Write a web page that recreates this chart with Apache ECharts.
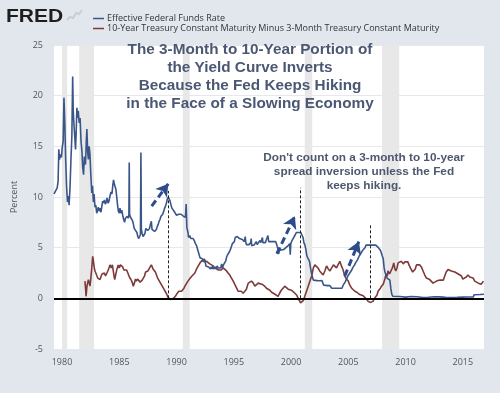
<!DOCTYPE html>
<html>
<head>
<meta charset="utf-8">
<script src="https://cdn.jsdelivr.net/npm/echarts@6/dist/echarts.min.js"></script>
<style>
html,body{margin:0;padding:0;background:#e2e7ee;}
#chart{width:500px;height:393px;}
</style>
</head>
<body>
<div id="chart"></div>
<script>
// ---- data (decimal year, percent) ----
var fedFunds = [
[1979.30,10.3],[1979.45,10.2],[1979.58,10.9],[1979.66,11.6],[1979.72,14.7],[1979.78,13.7],[1979.85,14.2],[1979.95,13.9],
[1980.02,14.9],[1980.10,15.5],[1980.17,19.8],[1980.24,17.5],[1980.32,13.7],[1980.40,11.0],[1980.48,9.5],[1980.55,10.1],
[1980.62,9.2],[1980.70,11.0],[1980.78,13.7],[1980.86,16.0],[1980.93,21.9],[1980.98,18.5],[1981.05,17.0],[1981.12,15.8],
[1981.18,14.7],[1981.24,16.5],[1981.30,18.8],[1981.36,17.8],[1981.42,18.5],[1981.50,17.3],[1981.58,17.8],[1981.66,15.5],
[1981.74,14.5],[1981.80,13.0],[1981.88,12.2],[1981.95,14.0],[1982.05,13.2],[1982.12,15.5],[1982.17,16.7],[1982.24,14.5],
[1982.30,13.7],[1982.37,15.0],[1982.44,14.2],[1982.52,12.1],[1982.60,10.4],[1982.66,11.1],[1982.74,9.5],[1982.80,10.3],
[1982.88,9.0],[1982.95,9.2],[1983.03,8.4],[1983.10,8.7],[1983.17,9.0],[1983.25,8.6],[1983.32,8.9],[1983.40,8.5],
[1983.48,9.1],[1983.55,9.6],[1983.62,9.4],[1983.70,9.7],[1983.78,9.3],[1983.86,9.5],[1983.93,9.9],[1984.02,9.4],
[1984.10,9.6],[1984.19,10.1],[1984.28,10.5],[1984.36,10.3],[1984.44,11.2],[1984.50,11.7],[1984.56,11.3],[1984.62,11.4],
[1984.70,10.8],[1984.77,10.1],[1984.85,9.2],[1984.92,8.6],[1985.00,8.4],[1985.06,8.9],[1985.14,8.4],[1985.22,8.7],
[1985.30,8.2],[1985.38,7.8],[1985.46,7.5],[1985.54,7.9],[1985.62,7.8],[1985.70,8.1],[1985.78,7.9],[1985.84,8.2],
[1985.87,13.4],[1985.90,8.3],[1985.98,8.0],[1986.06,7.9],[1986.14,7.7],[1986.22,7.4],[1986.30,6.9],[1986.38,6.8],
[1986.46,6.9],[1986.54,6.5],[1986.62,6.1],[1986.70,5.9],[1986.78,5.9],[1986.85,6.3],[1986.89,14.4],[1986.93,6.8],
[1987.00,6.4],[1987.08,6.1],[1987.16,6.2],[1987.24,6.4],[1987.32,6.9],[1987.40,6.8],[1987.48,6.7],[1987.56,6.6],
[1987.64,6.9],[1987.72,7.3],[1987.80,7.6],[1987.86,6.8],[1987.93,6.8],[1988.00,6.9],[1988.08,6.6],[1988.16,6.6],
[1988.24,6.8],[1988.32,7.1],[1988.40,7.3],[1988.48,7.6],[1988.56,7.8],[1988.64,8.1],[1988.72,8.2],[1988.80,8.3],
[1988.88,8.4],[1988.96,8.9],[1989.04,9.1],[1989.12,9.4],[1989.20,9.8],[1989.28,10.0],[1989.36,9.8],[1989.44,9.6],
[1989.52,9.2],[1989.60,8.9],[1989.68,9.0],[1989.76,8.8],[1989.84,8.5],[1989.92,8.5],[1990.00,8.2],[1990.10,8.3],
[1990.20,8.3],[1990.30,8.2],[1990.40,8.3],[1990.50,8.2],[1990.60,8.1],[1990.70,8.2],[1990.78,8.0],[1990.84,9.3],
[1990.90,7.0],[1991.00,6.5],[1991.05,6.0],[1991.15,6.2],[1991.25,5.9],[1991.35,5.8],[1991.45,5.9],[1991.55,5.7],
[1991.65,5.4],[1991.75,5.2],[1991.85,4.8],[1991.95,4.4],[1992.05,4.0],[1992.15,4.1],[1992.25,3.9],[1992.33,3.7],
[1992.42,3.9],[1992.50,3.7],[1992.56,3.2],[1992.65,3.3],[1992.72,3.2],[1992.80,3.1],[1992.88,3.0],[1992.96,2.9],
[1993.04,3.1],[1993.10,2.9],[1993.18,3.2],[1993.25,2.9],[1993.32,3.0],[1993.40,3.1],[1993.48,2.9],[1993.55,3.2],
[1993.62,3.0],[1993.70,3.1],[1993.78,2.9],[1993.86,3.0],[1993.94,3.4],[1994.00,3.0],[1994.10,3.3],[1994.20,3.4],
[1994.30,3.7],[1994.38,4.1],[1994.46,4.3],[1994.55,4.4],[1994.62,4.6],[1994.70,4.8],[1994.80,4.8],[1994.88,5.4],
[1994.96,5.5],[1995.05,5.6],[1995.12,6.0],[1995.20,6.0],[1995.30,6.1],[1995.40,6.0],[1995.50,5.9],[1995.58,5.8],
[1995.66,5.8],[1995.75,5.8],[1995.84,5.8],[1995.92,5.6],[1996.00,6.1],[1996.04,5.6],[1996.10,5.3],[1996.16,5.4],
[1996.24,5.2],[1996.32,5.3],[1996.40,5.3],[1996.48,5.5],[1996.52,5.9],[1996.56,5.2],[1996.64,5.3],[1996.72,5.2],
[1996.80,5.3],[1996.88,5.3],[1996.96,5.6],[1997.04,5.3],[1997.12,5.2],[1997.20,5.4],[1997.28,5.7],[1997.36,5.5],
[1997.44,5.6],[1997.50,6.0],[1997.54,5.5],[1997.60,5.5],[1997.68,5.6],[1997.76,5.5],[1997.84,5.5],[1997.92,5.6],
[1997.98,6.2],[1998.05,5.6],[1998.15,5.5],[1998.25,5.6],[1998.35,5.5],[1998.45,5.6],[1998.55,5.5],[1998.65,5.6],
[1998.75,5.3],[1998.80,5.1],[1998.86,4.9],[1998.92,4.4],[1998.97,4.7],[1999.05,4.6],[1999.15,4.8],[1999.25,4.7],
[1999.35,4.8],[1999.45,4.8],[1999.55,5.0],[1999.65,5.1],[1999.75,5.2],[1999.82,5.3],[1999.88,5.4],[1999.93,4.3],
[1999.98,5.4],[2000.08,5.7],[2000.18,5.9],[2000.28,6.0],[2000.38,6.3],[2000.46,6.5],[2000.55,6.6],[2000.65,6.5],
[2000.75,6.5],[2000.85,6.5],[2000.95,6.4],[2001.05,6.0],[2001.12,5.5],[2001.20,5.3],[2001.30,4.8],[2001.38,4.2],
[2001.46,4.0],[2001.55,3.8],[2001.62,3.6],[2001.70,3.0],[2001.78,2.5],[2001.86,2.1],[2001.95,1.8],[2002.10,1.7],
[2002.30,1.75],[2002.50,1.73],[2002.70,1.75],[2002.85,1.3],[2003.00,1.25],[2003.20,1.25],[2003.40,1.25],[2003.55,1.0],
[2003.80,1.0],[2004.00,1.0],[2004.20,1.0],[2004.45,1.0],[2004.55,1.3],[2004.65,1.45],[2004.72,1.6],[2004.80,1.8],
[2004.88,1.95],[2004.96,2.2],[2005.05,2.3],[2005.13,2.5],[2005.20,2.6],[2005.30,2.8],[2005.38,3.0],[2005.46,3.05],
[2005.55,3.3],[2005.63,3.5],[2005.71,3.6],[2005.80,3.8],[2005.88,4.0],[2005.96,4.2],[2006.05,4.3],[2006.13,4.5],
[2006.20,4.6],[2006.30,4.8],[2006.38,4.95],[2006.46,5.0],[2006.55,5.25],[2006.80,5.25],[2007.10,5.25],[2007.40,5.25],
[2007.55,5.25],[2007.63,5.0],[2007.71,4.9],[2007.80,4.75],[2007.88,4.5],[2007.96,4.2],[2008.05,3.9],[2008.13,3.0],
[2008.20,2.6],[2008.30,2.3],[2008.38,2.0],[2008.46,2.0],[2008.55,2.0],[2008.63,1.8],[2008.71,1.0],[2008.80,0.4],
[2008.90,0.2],[2009.00,0.15],[2009.50,0.18],[2010.00,0.12],[2010.50,0.18],[2011.00,0.16],[2011.50,0.08],[2012.00,0.1],
[2012.50,0.16],[2013.00,0.14],[2013.50,0.09],[2014.00,0.07],[2014.50,0.09],[2015.00,0.12],[2015.50,0.13],[2015.92,0.13],
[2015.98,0.36],[2016.50,0.38],[2016.85,0.41]
];

var spread = [
[1982.00,1.7],[1982.06,0.9],[1982.10,0.2],[1982.18,1.2],[1982.30,1.85],[1982.38,1.5],[1982.44,1.2],[1982.52,2.0],
[1982.60,3.0],[1982.68,4.15],[1982.75,3.6],[1982.82,3.0],[1982.88,2.7],[1982.95,2.5],[1983.05,2.2],[1983.12,2.0],
[1983.20,2.1],[1983.32,1.85],[1983.42,2.2],[1983.50,2.4],[1983.60,2.3],[1983.70,2.5],[1983.80,2.2],[1983.90,2.3],
[1984.00,2.7],[1984.10,3.0],[1984.19,3.3],[1984.30,3.0],[1984.40,3.3],[1984.50,2.5],[1984.60,1.85],[1984.70,2.4],
[1984.80,2.9],[1984.91,3.3],[1985.00,3.0],[1985.10,3.3],[1985.20,3.2],[1985.30,3.1],[1985.40,2.8],[1985.50,2.9],
[1985.64,2.8],[1985.75,2.5],[1985.85,2.2],[1985.93,2.0],[1986.05,1.8],[1986.15,1.5],[1986.22,1.2],[1986.32,1.5],
[1986.42,1.9],[1986.50,1.7],[1986.60,1.9],[1986.66,2.0],[1986.75,1.8],[1986.82,1.6],[1986.90,1.5],[1987.00,1.8],
[1987.10,2.0],[1987.20,2.2],[1987.30,2.6],[1987.40,2.5],[1987.50,2.7],[1987.60,2.9],[1987.70,3.1],[1987.80,3.3],
[1987.88,3.1],[1987.95,2.9],[1988.05,2.8],[1988.15,2.6],[1988.25,2.3],[1988.35,2.0],[1988.45,1.8],[1988.55,1.6],
[1988.65,1.4],[1988.75,1.2],[1988.85,1.0],[1988.95,0.8],[1989.05,0.6],[1989.15,0.4],[1989.25,0.1],[1989.35,0.0],
[1989.45,-0.1],[1989.57,-0.15],[1989.68,-0.05],[1989.80,0.05],[1989.90,0.2],[1990.00,0.4],[1990.10,0.5],[1990.20,0.7],
[1990.30,0.6],[1990.44,0.7],[1990.55,0.8],[1990.65,1.0],[1990.73,1.2],[1990.85,1.3],[1991.00,1.7],[1991.10,1.8],
[1991.20,2.0],[1991.35,2.2],[1991.46,2.3],[1991.60,2.5],[1991.75,2.9],[1991.90,3.2],[1992.05,3.5],[1992.20,3.7],
[1992.33,3.8],[1992.45,3.6],[1992.55,3.7],[1992.63,3.65],[1992.75,3.5],[1992.90,3.4],[1993.06,3.3],[1993.20,3.2],
[1993.35,3.0],[1993.50,3.0],[1993.65,2.8],[1993.79,2.7],[1993.90,2.8],[1994.07,3.0],[1994.20,2.9],[1994.37,2.7],
[1994.50,2.5],[1994.65,2.3],[1994.80,2.0],[1994.95,1.7],[1995.10,1.35],[1995.25,1.0],[1995.38,0.7],[1995.50,0.6],
[1995.65,0.7],[1995.82,0.5],[1995.95,0.6],[1996.10,0.9],[1996.26,1.5],[1996.40,1.6],[1996.55,1.7],[1996.70,1.5],
[1996.84,1.2],[1996.95,1.3],[1997.13,1.5],[1997.30,1.6],[1997.45,1.4],[1997.57,1.35],[1997.70,1.2],[1997.85,1.0],
[1998.00,0.86],[1998.15,0.8],[1998.30,0.6],[1998.44,0.5],[1998.60,0.4],[1998.75,0.3],[1998.87,0.2],[1998.95,0.4],
[1999.05,0.6],[1999.15,0.8],[1999.30,0.9],[1999.45,1.2],[1999.60,1.1],[1999.75,0.9],[1999.90,1.0],[2000.03,0.8],
[2000.15,0.7],[2000.25,0.6],[2000.35,0.5],[2000.50,0.3],[2000.62,0.0],[2000.72,-0.2],[2000.83,-0.45],[2000.92,-0.5],
[2001.00,-0.6],[2001.08,-0.2],[2001.20,0.2],[2001.35,0.7],[2001.50,1.2],[2001.65,1.7],[2001.80,2.2],[2001.95,3.0],
[2002.08,3.3],[2002.20,3.2],[2002.35,3.0],[2002.50,2.7],[2002.65,2.5],[2002.80,2.3],[2002.95,2.7],[2003.10,3.2],
[2003.25,2.9],[2003.40,2.7],[2003.55,3.0],[2003.70,3.3],[2003.85,3.2],[2003.97,3.0],[2004.10,3.3],[2004.26,3.65],
[2004.40,3.2],[2004.55,2.8],[2004.69,2.2],[2004.85,1.9],[2005.00,1.7],[2005.13,1.3],[2005.30,1.0],[2005.45,0.9],
[2005.57,0.7],[2005.75,0.6],[2005.90,0.45],[2006.00,0.37],[2006.15,0.3],[2006.30,0.25],[2006.44,0.2],[2006.60,-0.1],
[2006.73,-0.3],[2006.85,-0.35],[2006.95,-0.4],[2007.05,-0.45],[2007.15,-0.3],[2007.25,-0.1],[2007.35,0.1],[2007.50,0.3],
[2007.60,0.7],[2007.70,0.8],[2007.80,1.0],[2007.90,1.2],[2008.05,1.4],[2008.18,1.85],[2008.30,2.4],[2008.40,2.2],
[2008.47,2.7],[2008.60,2.4],[2008.76,2.5],[2008.85,3.0],[2008.97,3.5],[2009.07,2.9],[2009.15,2.7],[2009.25,3.0],
[2009.35,3.5],[2009.50,3.6],[2009.64,3.65],[2009.80,3.4],[2009.95,3.6],[2010.08,3.65],[2010.20,3.6],[2010.30,3.3],
[2010.42,3.0],[2010.51,2.85],[2010.62,2.6],[2010.74,2.5],[2010.85,2.9],[2010.95,3.3],[2011.10,3.3],[2011.24,3.3],
[2011.38,3.1],[2011.53,2.7],[2011.68,2.3],[2011.82,2.0],[2011.95,1.9],[2012.11,1.85],[2012.25,2.0],[2012.40,1.5],
[2012.55,1.5],[2012.70,1.7],[2012.85,1.6],[2013.00,1.8],[2013.13,1.85],[2013.30,1.8],[2013.42,2.2],[2013.55,2.6],
[2013.71,2.85],[2013.85,2.8],[2014.00,2.7],[2014.15,2.7],[2014.30,2.6],[2014.44,2.5],[2014.60,2.4],[2014.75,2.3],
[2014.88,2.2],[2015.00,1.9],[2015.17,2.0],[2015.30,2.1],[2015.45,2.3],[2015.60,2.1],[2015.75,2.0],[2015.90,2.0],
[2016.04,1.7],[2016.20,1.6],[2016.35,1.5],[2016.48,1.35],[2016.60,1.4],[2016.70,1.5],[2016.80,1.7]
];

// recession periods (start, end as decimal years)
var recessionStarts = [1980.00, 1981.50, 1990.55, 2001.20, 2007.95];
var recessionEnds   = [1980.45, 1982.80, 1991.15, 2001.85, 2009.45];

// inversion markers (dashed verticals) and hiking arrows
var inversionYears = [1989.28, 2000.83, 2006.94];
var inversionTops  = [10.6, 10.9, 7.4];
var arrowFrom = [[1987.83, 9.1], [1998.76, 4.4], [2004.69, 2.2]];
var arrowTo   = [[1989.28, 11.3], [2000.33, 8.1], [2005.92, 5.6]];

var yearTicks = [1980, 1985, 1990, 1995, 2000, 2005, 2010, 2015];
var seriesNames = ['Effective Federal Funds Rate', '10-Year Treasury Constant Maturity Minus 3-Month Treasury Constant Maturity'];

var titleLines = ['The 3-Month to 10-Year Portion of', 'the Yield Curve Inverts', 'Because the Fed Keeps Hiking', 'in the Face of a Slowing Economy'];
var noteLines = ["Don't count on a 3-month to 10-year", 'spread inversion unless the Fed', 'keeps hiking.'];

// ---- build chart ----
var chart = echarts.init(document.getElementById('chart'), null, {renderer: 'canvas'});

var recessionAreas = recessionStarts.map(function (s, i) {
  return [{xAxis: s}, {xAxis: recessionEnds[i]}];
});
var inversionLines = inversionYears.map(function (yr, i) {
  return [{coord: [yr, 0]}, {coord: [yr, inversionTops[i]]}];
});
var arrowLines = arrowFrom.map(function (p, i) {
  return [{coord: p}, {coord: arrowTo[i]}];
});

var option = {
  backgroundColor: '#e2e7ee',
  animation: false,
  textStyle: {fontFamily: 'Open Sans'},
  grid: {left: 54, right: 16, top: 45, bottom: 44, show: true, backgroundColor: '#ffffff', borderWidth: 0},
  legend: {
    left: 88, top: 9, orient: 'vertical', itemGap: 1, itemWidth: 11, itemHeight: 1.5, icon: 'rect',
    textStyle: {fontSize: 9, color: '#333', fontFamily: 'Open Sans', padding: [0, 0, 0, -2]},
    data: seriesNames, selectedMode: false
  },
  xAxis: {
    type: 'value', min: 1979.30, max: 2016.85,
    axisLine: {show: false}, axisTick: {show: false}, splitLine: {show: false},
    axisLabel: {customValues: yearTicks, fontSize: 9, color: '#555', margin: 9,
      formatter: function (v) { return String(Math.round(v)); }}
  },
  yAxis: {
    type: 'value', min: -5, max: 25, interval: 5,
    name: 'Percent', nameLocation: 'middle', nameGap: 35, nameRotate: 90,
    nameTextStyle: {fontSize: 9, color: '#555'},
    axisLine: {show: false}, axisTick: {show: false},
    axisLabel: {fontSize: 9, color: '#555', margin: 11},
    splitLine: {lineStyle: {color: '#e6e8eb', width: 1}}
  },
  series: [
    {
      name: 'recessions', type: 'line', data: [], z: 1, silent: true,
      markArea: {silent: true, itemStyle: {color: '#e8e8e8'}, data: recessionAreas}
    },
    {
      name: seriesNames[1], type: 'line', data: spread, symbol: 'none', z: 3,
      itemStyle: {color: '#7e3a3a'}, lineStyle: {color: '#7e3a3a', width: 1.6}
    },
    {
      name: seriesNames[0], type: 'line', data: fedFunds, symbol: 'none', z: 4,
      itemStyle: {color: '#3a5689'}, lineStyle: {color: '#3a5689', width: 1.6}
    },
    {
      name: 'zero', type: 'line', data: [], z: 5, silent: true,
      markLine: {
        silent: true, symbol: ['none', 'none'], label: {show: false},
        lineStyle: {color: '#000', width: 2, type: 'solid'},
        data: [{yAxis: 0}]
      }
    },
    {
      name: 'inversions', type: 'line', data: [], z: 6, silent: true,
      markLine: {
        silent: true, symbol: ['none', 'none'], label: {show: false},
        lineStyle: {color: '#222', width: 1, type: [3, 2]},
        data: inversionLines
      }
    },
    {
      name: 'arrows', type: 'line', data: [], z: 7, silent: true,
      markLine: {
        silent: true, symbol: ['none', 'arrow'], symbolSize: [11, 12], label: {show: false},
        lineStyle: {color: '#2f4b8c', width: 3, type: [7, 4], opacity: 1},
        data: arrowLines
      }
    }
  ],
  graphic: [
    {
      type: 'text', left: 6, top: 8, scaleX: 1.2, originX: 0, z: 100,
      style: {text: 'FRED', fontFamily: 'Liberation Sans', fontWeight: 900, fontSize: 17.5, fill: '#1e1e1e'}
    },
    {
      type: 'polyline', z: 100, shape: {points: [[67, 20], [70, 17], [73, 18], [76, 13], [79, 14], [82, 10]]},
      style: {stroke: '#c9ced6', lineWidth: 2, fill: null}
    },
    {
      type: 'text', x: 250, y: 41, z: 100,
      style: {text: titleLines.join('\n'), fontFamily: 'Liberation Sans', fontWeight: 'bold', fontSize: 15.3,
        lineHeight: 18, fill: '#4b5873', align: 'center'}
    },
    {
      type: 'text', x: 364, y: 151, z: 100,
      style: {text: noteLines.join('\n'), fontFamily: 'Liberation Sans', fontWeight: 'bold', fontSize: 11.8,
        lineHeight: 13.8, fill: '#4d576e', align: 'center'}
    }
  ]
};
chart.setOption(option);
</script>
</body>
</html>
